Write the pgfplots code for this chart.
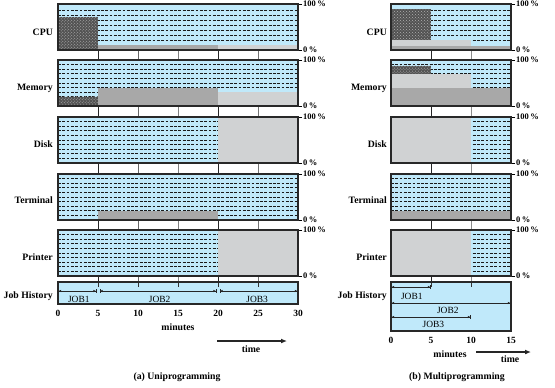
\documentclass[border=0pt]{standalone}
\usepackage{fontspec}
\setmainfont{Liberation Serif}
\usepackage{pgfplots}
\pgfplotsset{compat=1.18}
\usetikzlibrary{patterns,arrows.meta}
\definecolor{skyb}{RGB}{192,233,250}
\definecolor{midg}{RGB}{168,168,168}
\definecolor{ltg}{RGB}{208,210,211}
\definecolor{darkg}{RGB}{82,82,82}
\definecolor{frm}{RGB}{40,40,40}
\newcommand\lab{\bfseries\fontsize{9.8}{11}\selectfont}
\newcommand\tlab{\bfseries\fontsize{9.5}{10}\selectfont}
\newcommand\plab{\bfseries\fontsize{8.5}{9}\selectfont}
\newcommand\jlab{\fontsize{9.5}{10}\selectfont}
\pgfplotsset{
  panel/.style={
    anchor=north west, x=8bp, y=0.46bp, xmin=0, ymin=0, ymax=100,
    axis background/.style={fill=skyb},
    axis line style={line width=1.6bp, draw=frm},
    axis on top,
    xtick=\empty, ytick={0,100}, yticklabels={0\,\%,100\,\%},
    ytick pos=right, tick align=outside, major tick length=4bp,
    tick style={line width=0.6bp, black},
    yticklabel style={font=\plab, inner sep=1bp},
  },
  jobh/.style={
    anchor=north west, x=8bp, y=1bp, ymin=0,
    axis background/.style={fill=skyb},
    axis line style={line width=1.6bp, draw=frm},
    axis on top, clip=false,
    ytick=\empty,
    xtick pos=right, xticklabel pos=left, tick align=inside, major tick length=5bp,
    tick style={line width=0.6bp, black!80},
    xticklabel style={font=\tlab, yshift=-3bp},
  },
  bgl/.style={anchor=north west, x=8bp, y=1bp, xmin=0, ymin=0, ymax=232, hide axis, clip=false},
  dsh/.style={black!90, line width=0.75bp, dash pattern=on 2.8bp off 1.5bp},
  dk/.style={fill=darkg, draw=none},
  spk/.style={pattern=crosshatch dots, pattern color=black!30!white, draw=none},
  md/.style={fill=midg, draw=none},
  lt/.style={fill=ltg, draw=none},
  jarr/.style={line width=0.6bp, black!85, {Bar[width=3.5bp]Latex[length=2.5bp,width=2.5bp]}-{Latex[length=2.5bp,width=2.5bp]Bar[width=3.5bp]}},
}
\newcommand\dashes[2]{\pgfplotsinvokeforeach{#2}{\addplot[dsh] coordinates {(0,##1) (#1,##1)};}}
\begin{document}
\begin{tikzpicture}
\path[use as bounding box] (0,0) rectangle (555bp,-388bp);

% background ruler lines (left)
\begin{axis}[bgl, at={(58bp,-50bp)}, xmax=30]
\addplot[black!85, line width=0.7bp] coordinates {(5,0) (5,232)};
\addplot[black!60, line width=0.7bp] coordinates {(10,0) (10,232)};
\addplot[black!50, line width=0.7bp] coordinates {(15,0) (15,232)};
\addplot[black!85, line width=0.7bp] coordinates {(20,0) (20,232)};
\addplot[black!55, line width=0.7bp] coordinates {(25,0) (25,232)};
\end{axis}
% background ruler lines (right)
\begin{axis}[bgl, at={(391bp,-50bp)}, xmax=15]
\addplot[black!85, line width=0.7bp] coordinates {(5,0) (5,232)};
\addplot[black!45, line width=0.7bp] coordinates {(10,0) (10,232)};
\end{axis}

% ===== LEFT: Uniprogramming =====
% CPU
\begin{axis}[panel, at={(58bp,-4bp)}, xmax=30]
\dashes{30}{20,31,...,90}
\addplot[dk] coordinates {(0,0) (5,0) (5,72) (0,72)} -- cycle;
\addplot[spk] coordinates {(0,0) (5,0) (5,72) (0,72)} -- cycle;
\addplot[md] coordinates {(5,0) (20,0) (20,10) (5,10)} -- cycle;
\addplot[lt] coordinates {(20,0) (30,0) (30,10) (20,10)} -- cycle;
\end{axis}
% Memory
\begin{axis}[panel, at={(58bp,-60bp)}, xmax=30]
\dashes{30}{10,20,...,90}
\addplot[dk] coordinates {(0,0) (5,0) (5,20) (0,20)} -- cycle;
\addplot[spk] coordinates {(0,0) (5,0) (5,20) (0,20)} -- cycle;
\addplot[md] coordinates {(5,0) (20,0) (20,40) (5,40)} -- cycle;
\addplot[lt] coordinates {(20,0) (30,0) (30,30) (20,30)} -- cycle;
\end{axis}
% Disk
\begin{axis}[panel, at={(58bp,-117bp)}, xmax=30]
\dashes{30}{10,20,...,90}
\addplot[lt] coordinates {(20,0) (30,0) (30,100) (20,100)} -- cycle;
\end{axis}
% Terminal
\begin{axis}[panel, at={(58bp,-174bp)}, xmax=30]
\dashes{30}{10,20,...,90}
\addplot[md] coordinates {(5,0) (20,0) (20,20) (5,20)} -- cycle;
\end{axis}
% Printer
\begin{axis}[panel, at={(58bp,-230bp)}, xmax=30]
\dashes{30}{10,20,...,90}
\addplot[lt] coordinates {(20,0) (30,0) (30,100) (20,100)} -- cycle;
\end{axis}
% Job history
\begin{axis}[jobh, at={(58bp,-282bp)}, xmin=0, xmax=30, ymax=22,
  xtick={0,5,...,30}, xticklabels={0,5,10,15,20,25,30}]
\addplot[jarr] coordinates {(0,13) (4.8,13)};
\addplot[jarr] coordinates {(5.2,13) (19.8,13)};
\addplot[jarr] coordinates {(20.2,13) (30,13)};
\node[font=\jlab] at (axis cs:2.6,5) {JOB1};
\node[font=\jlab] at (axis cs:12.7,5) {JOB2};
\node[font=\jlab] at (axis cs:24.9,5) {JOB3};
\end{axis}

% ===== RIGHT: Multiprogramming =====
% CPU
\begin{axis}[panel, at={(391bp,-4bp)}, xmax=15]
\dashes{15}{20,31,...,90}
\addplot[md] coordinates {(0,0) (15,0) (15,9) (0,9)} -- cycle;
\addplot[lt] coordinates {(0,9) (10,9) (10,22) (0,22)} -- cycle;
\addplot[dk] coordinates {(0,22) (5,22) (5,89) (0,89)} -- cycle;
\addplot[spk] coordinates {(0,22) (5,22) (5,89) (0,89)} -- cycle;
\end{axis}
% Memory
\begin{axis}[panel, at={(391bp,-60bp)}, xmax=15]
\dashes{15}{10,20,...,90}
\addplot[md] coordinates {(0,0) (15,0) (15,39) (0,39)} -- cycle;
\addplot[lt] coordinates {(0,39) (10,39) (10,70) (0,70)} -- cycle;
\addplot[dk] coordinates {(0,70) (5,70) (5,87) (0,87)} -- cycle;
\addplot[spk] coordinates {(0,70) (5,70) (5,87) (0,87)} -- cycle;
\end{axis}
% Disk
\begin{axis}[panel, at={(391bp,-117bp)}, xmax=15]
\dashes{15}{10,20,...,90}
\addplot[lt] coordinates {(0,0) (10,0) (10,100) (0,100)} -- cycle;
\end{axis}
% Terminal
\begin{axis}[panel, at={(391bp,-174bp)}, xmax=15]
\dashes{15}{10,20,...,90}
\addplot[md] coordinates {(0,0) (15,0) (15,20) (0,20)} -- cycle;
\end{axis}
% Printer
\begin{axis}[panel, at={(391bp,-230bp)}, xmax=15]
\dashes{15}{10,20,...,90}
\addplot[lt] coordinates {(0,0) (10,0) (10,100) (0,100)} -- cycle;
\end{axis}
% Job history
\begin{axis}[jobh, at={(391bp,-282bp)}, xmin=0, xmax=15, ymax=49,
  xtick={0,5,10,15}, xticklabels={0,5,10,15}]
\addplot[jarr] coordinates {(0,44) (5,44)};
\addplot[jarr] coordinates {(0,28) (15,28)};
\addplot[jarr] coordinates {(0,14) (10,14)};
\node[font=\jlab] at (axis cs:2.6,35) {JOB1};
\node[font=\jlab] at (axis cs:7.1,21) {JOB2};
\node[font=\jlab] at (axis cs:5.3,7) {JOB3};
\end{axis}

% row labels
\foreach \t/\y in {CPU/32,Memory/88,Disk/144,Terminal/200,Printer/257,Job History/296}{
  \node[anchor=east, font=\lab, inner sep=0pt] at (53bp,-\y bp) {\t};
  \node[anchor=east, font=\lab, inner sep=0pt] at (387bp,-\y bp) {\t};
}
% axis captions
\node[font=\lab] at (178bp,-327bp) {minutes};
\node[font=\lab] at (450bp,-354bp) {minutes};
\draw[line width=1.5bp, black!85, -{Latex[length=6bp,width=5bp]}] (217bp,-341bp) -- (287bp,-341bp);
\node[font=\lab] at (251bp,-349bp) {time};
\draw[line width=1.5bp, black!85, -{Latex[length=6bp,width=5bp]}] (476bp,-352bp) -- (531bp,-352bp);
\node[font=\lab] at (510bp,-359bp) {time};
\node[font=\lab] at (177bp,-377bp) {(a) Uniprogramming};
\node[font=\lab] at (457bp,-377bp) {(b) Multiprogramming};
\end{tikzpicture}
\end{document}
